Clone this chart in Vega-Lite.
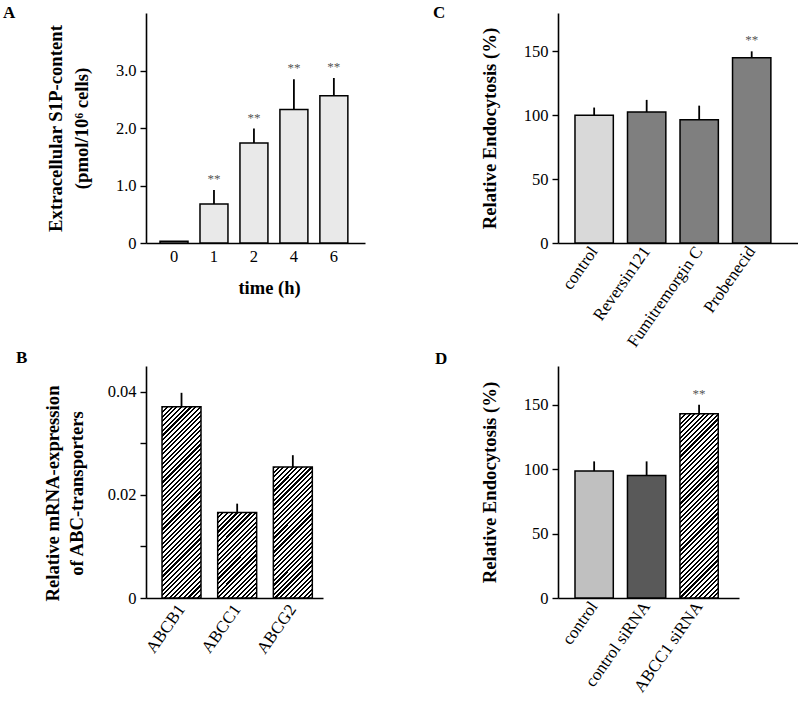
{
  "$schema": "https://vega.github.io/schema/vega-lite/v6.json",
  "padding": {"left": 3, "top": 4, "right": 0, "bottom": 0},
  "params": [
    {"name": "hatch", "value": [
      {"offset":0,"color":"#000"},{"offset":0.009,"color":"#000"},{"offset":0.009,"color":"#fff"},{"offset":0.02,"color":"#fff"},
      {"offset":0.02,"color":"#000"},{"offset":0.029,"color":"#000"},{"offset":0.029,"color":"#fff"},{"offset":0.04,"color":"#fff"},
      {"offset":0.04,"color":"#000"},{"offset":0.049,"color":"#000"},{"offset":0.049,"color":"#fff"},{"offset":0.06,"color":"#fff"},
      {"offset":0.06,"color":"#000"},{"offset":0.069,"color":"#000"},{"offset":0.069,"color":"#fff"},{"offset":0.08,"color":"#fff"},
      {"offset":0.08,"color":"#000"},{"offset":0.089,"color":"#000"},{"offset":0.089,"color":"#fff"},{"offset":0.10,"color":"#fff"},
      {"offset":0.10,"color":"#000"},{"offset":0.109,"color":"#000"},{"offset":0.109,"color":"#fff"},{"offset":0.12,"color":"#fff"},
      {"offset":0.12,"color":"#000"},{"offset":0.129,"color":"#000"},{"offset":0.129,"color":"#fff"},{"offset":0.14,"color":"#fff"},
      {"offset":0.14,"color":"#000"},{"offset":0.149,"color":"#000"},{"offset":0.149,"color":"#fff"},{"offset":0.16,"color":"#fff"},
      {"offset":0.16,"color":"#000"},{"offset":0.169,"color":"#000"},{"offset":0.169,"color":"#fff"},{"offset":0.18,"color":"#fff"},
      {"offset":0.18,"color":"#000"},{"offset":0.189,"color":"#000"},{"offset":0.189,"color":"#fff"},{"offset":0.20,"color":"#fff"},
      {"offset":0.20,"color":"#000"},{"offset":0.209,"color":"#000"},{"offset":0.209,"color":"#fff"},{"offset":0.22,"color":"#fff"},
      {"offset":0.22,"color":"#000"},{"offset":0.229,"color":"#000"},{"offset":0.229,"color":"#fff"},{"offset":0.24,"color":"#fff"},
      {"offset":0.24,"color":"#000"},{"offset":0.249,"color":"#000"},{"offset":0.249,"color":"#fff"},{"offset":0.26,"color":"#fff"},
      {"offset":0.26,"color":"#000"},{"offset":0.269,"color":"#000"},{"offset":0.269,"color":"#fff"},{"offset":0.28,"color":"#fff"},
      {"offset":0.28,"color":"#000"},{"offset":0.289,"color":"#000"},{"offset":0.289,"color":"#fff"},{"offset":0.30,"color":"#fff"},
      {"offset":0.30,"color":"#000"},{"offset":0.309,"color":"#000"},{"offset":0.309,"color":"#fff"},{"offset":0.32,"color":"#fff"},
      {"offset":0.32,"color":"#000"},{"offset":0.329,"color":"#000"},{"offset":0.329,"color":"#fff"},{"offset":0.34,"color":"#fff"},
      {"offset":0.34,"color":"#000"},{"offset":0.349,"color":"#000"},{"offset":0.349,"color":"#fff"},{"offset":0.36,"color":"#fff"},
      {"offset":0.36,"color":"#000"},{"offset":0.369,"color":"#000"},{"offset":0.369,"color":"#fff"},{"offset":0.38,"color":"#fff"},
      {"offset":0.38,"color":"#000"},{"offset":0.389,"color":"#000"},{"offset":0.389,"color":"#fff"},{"offset":0.40,"color":"#fff"},
      {"offset":0.40,"color":"#000"},{"offset":0.409,"color":"#000"},{"offset":0.409,"color":"#fff"},{"offset":0.42,"color":"#fff"},
      {"offset":0.42,"color":"#000"},{"offset":0.429,"color":"#000"},{"offset":0.429,"color":"#fff"},{"offset":0.44,"color":"#fff"},
      {"offset":0.44,"color":"#000"},{"offset":0.449,"color":"#000"},{"offset":0.449,"color":"#fff"},{"offset":0.46,"color":"#fff"},
      {"offset":0.46,"color":"#000"},{"offset":0.469,"color":"#000"},{"offset":0.469,"color":"#fff"},{"offset":0.48,"color":"#fff"},
      {"offset":0.48,"color":"#000"},{"offset":0.489,"color":"#000"},{"offset":0.489,"color":"#fff"},{"offset":0.50,"color":"#fff"},
      {"offset":0.50,"color":"#000"},{"offset":0.509,"color":"#000"},{"offset":0.509,"color":"#fff"},{"offset":0.52,"color":"#fff"},
      {"offset":0.52,"color":"#000"},{"offset":0.529,"color":"#000"},{"offset":0.529,"color":"#fff"},{"offset":0.54,"color":"#fff"},
      {"offset":0.54,"color":"#000"},{"offset":0.549,"color":"#000"},{"offset":0.549,"color":"#fff"},{"offset":0.56,"color":"#fff"},
      {"offset":0.56,"color":"#000"},{"offset":0.569,"color":"#000"},{"offset":0.569,"color":"#fff"},{"offset":0.58,"color":"#fff"},
      {"offset":0.58,"color":"#000"},{"offset":0.589,"color":"#000"},{"offset":0.589,"color":"#fff"},{"offset":0.60,"color":"#fff"},
      {"offset":0.60,"color":"#000"},{"offset":0.609,"color":"#000"},{"offset":0.609,"color":"#fff"},{"offset":0.62,"color":"#fff"},
      {"offset":0.62,"color":"#000"},{"offset":0.629,"color":"#000"},{"offset":0.629,"color":"#fff"},{"offset":0.64,"color":"#fff"},
      {"offset":0.64,"color":"#000"},{"offset":0.649,"color":"#000"},{"offset":0.649,"color":"#fff"},{"offset":0.66,"color":"#fff"},
      {"offset":0.66,"color":"#000"},{"offset":0.669,"color":"#000"},{"offset":0.669,"color":"#fff"},{"offset":0.68,"color":"#fff"},
      {"offset":0.68,"color":"#000"},{"offset":0.689,"color":"#000"},{"offset":0.689,"color":"#fff"},{"offset":0.70,"color":"#fff"},
      {"offset":0.70,"color":"#000"},{"offset":0.709,"color":"#000"},{"offset":0.709,"color":"#fff"},{"offset":0.72,"color":"#fff"},
      {"offset":0.72,"color":"#000"},{"offset":0.729,"color":"#000"},{"offset":0.729,"color":"#fff"},{"offset":0.74,"color":"#fff"},
      {"offset":0.74,"color":"#000"},{"offset":0.749,"color":"#000"},{"offset":0.749,"color":"#fff"},{"offset":0.76,"color":"#fff"},
      {"offset":0.76,"color":"#000"},{"offset":0.769,"color":"#000"},{"offset":0.769,"color":"#fff"},{"offset":0.78,"color":"#fff"},
      {"offset":0.78,"color":"#000"},{"offset":0.789,"color":"#000"},{"offset":0.789,"color":"#fff"},{"offset":0.80,"color":"#fff"},
      {"offset":0.80,"color":"#000"},{"offset":0.809,"color":"#000"},{"offset":0.809,"color":"#fff"},{"offset":0.82,"color":"#fff"},
      {"offset":0.82,"color":"#000"},{"offset":0.829,"color":"#000"},{"offset":0.829,"color":"#fff"},{"offset":0.84,"color":"#fff"},
      {"offset":0.84,"color":"#000"},{"offset":0.849,"color":"#000"},{"offset":0.849,"color":"#fff"},{"offset":0.86,"color":"#fff"},
      {"offset":0.86,"color":"#000"},{"offset":0.869,"color":"#000"},{"offset":0.869,"color":"#fff"},{"offset":0.88,"color":"#fff"},
      {"offset":0.88,"color":"#000"},{"offset":0.889,"color":"#000"},{"offset":0.889,"color":"#fff"},{"offset":0.90,"color":"#fff"},
      {"offset":0.90,"color":"#000"},{"offset":0.909,"color":"#000"},{"offset":0.909,"color":"#fff"},{"offset":0.92,"color":"#fff"},
      {"offset":0.92,"color":"#000"},{"offset":0.929,"color":"#000"},{"offset":0.929,"color":"#fff"},{"offset":0.94,"color":"#fff"},
      {"offset":0.94,"color":"#000"},{"offset":0.949,"color":"#000"},{"offset":0.949,"color":"#fff"},{"offset":0.96,"color":"#fff"},
      {"offset":0.96,"color":"#000"},{"offset":0.969,"color":"#000"},{"offset":0.969,"color":"#fff"},{"offset":0.98,"color":"#fff"},
      {"offset":0.98,"color":"#000"},{"offset":0.989,"color":"#000"},{"offset":0.989,"color":"#fff"},{"offset":1,"color":"#fff"}
    ]}
  ],
  "columns": 2,
  "spacing": {"row": 123, "column": 193},
  "bounds": "flush",
  "align": "each",
  "config": {
    "view": {"stroke": null},
    "font": "Liberation Serif",
    "axis": {
      "domainColor": "#000", "domainWidth": 1.6, "tickColor": "#000", "tickWidth": 1.4, "tickSize": 6,
      "labelFont": "Liberation Serif", "labelFontSize": 16.5, "labelColor": "#000", "labelPadding": 4,
      "titleFont": "Liberation Serif", "titleFontSize": 18.5, "titleFontWeight": "bold", "titleColor": "#000",
      "grid": false
    },
    "axisY": {"titleFontSize": 18.7},
    "axisX": {"ticks": false, "tickSize": 0},
    "title": {"font": "Liberation Serif", "fontSize": 17, "fontWeight": "bold", "color": "#000", "anchor": "start", "frame": "group", "baseline": "top", "offset": 0}
  },
  "concat": [
    {
      "title": {"text": "A", "dx": -143, "dy": 13},
      "width": 219, "height": 230,
      "data": {"values": [
        {"time": "0", "mean": 0.03, "upper": null, "sig": ""},
        {"time": "1", "mean": 0.68, "upper": 0.92, "sig": "**"},
        {"time": "2", "mean": 1.74, "upper": 1.99, "sig": "**"},
        {"time": "4", "mean": 2.32, "upper": 2.85, "sig": "**"},
        {"time": "6", "mean": 2.56, "upper": 2.87, "sig": "**"}
      ]},
      "encoding": {
        "x": {"field": "time", "type": "ordinal", "sort": null,
              "scale": {"paddingInner": 0.3, "paddingOuter": 0.39, "align": 0.45},
              "axis": {"title": "time (h)", "labelAngle": 0, "labelPadding": 5, "titlePadding": 14, "titleX": 123}}
      },
      "layer": [
        {"mark": {"type": "bar", "fill": "#e9e9e9", "stroke": "#000", "strokeWidth": 1.5},
         "encoding": {"y": {"field": "mean", "type": "quantitative", "scale": {"domain": [0, 3.6]},
           "title": ["Extracellular S1P-content", "(pmol/10⁶ cells)"],
           "axis": {"values": [0, 1, 2, 3], "labelExpr": "datum.value === 0 ? '0' : format(datum.value, '.1f')",
                    "titleLineHeight": 26, "titlePadding": 24}}}},
        {"transform": [{"filter": "datum.upper != null"}],
         "mark": {"type": "rule", "strokeWidth": 1.8, "color": "#000"},
         "encoding": {"y": {"field": "mean", "type": "quantitative", "title": ["Extracellular S1P-content", "(pmol/10⁶ cells)"]}, "y2": {"field": "upper"}}},
        {"transform": [{"filter": "datum.sig !== ''"}],
         "mark": {"type": "text", "dy": -7, "fontSize": 13, "color": "#555", "baseline": "alphabetic"},
         "encoding": {"y": {"field": "upper", "type": "quantitative", "title": ["Extracellular S1P-content", "(pmol/10⁶ cells)"]}, "text": {"field": "sig"}}}
      ]
    },
    {
      "title": {"text": "C", "dx": -125, "dy": 13},
      "width": 240, "height": 230,
      "data": {"values": [
        {"treatment": "control", "mean": 100, "upper": 106, "sig": ""},
        {"treatment": "Reversin121", "mean": 102.5, "upper": 112, "sig": ""},
        {"treatment": "Fumitremorgin C", "mean": 96.5, "upper": 107.5, "sig": ""},
        {"treatment": "Probenecid", "mean": 145, "upper": 150, "sig": "**"}
      ]},
      "encoding": {
        "x": {"field": "treatment", "type": "nominal", "sort": null,
              "scale": {"paddingInner": 0.27, "paddingOuter": 0.42, "align": 0.385},
              "axis": {"title": null, "labelAngle": -55, "labelPadding": 5, "labelFontSize": 17}}
      },
      "layer": [
        {"mark": {"type": "bar", "stroke": "#000", "strokeWidth": 1.5},
         "encoding": {
           "y": {"field": "mean", "type": "quantitative", "scale": {"domain": [0, 180]}, "title": "Relative Endocytosis (%)",
                 "axis": {"values": [0, 50, 100, 150], "titlePadding": 24}},
           "fill": {"field": "treatment", "type": "nominal", "legend": null,
                    "scale": {"domain": ["control", "Reversin121", "Fumitremorgin C", "Probenecid"],
                              "range": ["#d9d9d9", "#7f7f7f", "#7f7f7f", "#7f7f7f"]}}}},
        {"mark": {"type": "rule", "strokeWidth": 1.8, "color": "#000"},
         "encoding": {"y": {"field": "mean", "type": "quantitative", "title": "Relative Endocytosis (%)"}, "y2": {"field": "upper"}}},
        {"transform": [{"filter": "datum.sig !== ''"}],
         "mark": {"type": "text", "dy": -7, "fontSize": 13, "color": "#555", "baseline": "alphabetic"},
         "encoding": {"y": {"field": "upper", "type": "quantitative", "title": "Relative Endocytosis (%)"}, "text": {"field": "sig"}}}
      ]
    },
    {
      "title": {"text": "B", "dx": -130, "dy": 5},
      "width": 177, "height": 232,
      "data": {"values": [
        {"gene": "ABCB1", "mean": 0.0371, "upper": 0.0398},
        {"gene": "ABCC1", "mean": 0.0166, "upper": 0.0183},
        {"gene": "ABCG2", "mean": 0.0254, "upper": 0.0277}
      ]},
      "encoding": {
        "x": {"field": "gene", "type": "nominal", "sort": null,
              "scale": {"paddingInner": 0.3, "paddingOuter": 0.24, "align": 0.6},
              "axis": {"title": null, "labelAngle": -55, "labelPadding": 8, "labelFontSize": 17}}
      },
      "layer": [
        {"mark": {"type": "bar", "stroke": "#000", "strokeWidth": 1.5},
         "encoding": {
           "y": {"field": "mean", "type": "quantitative", "scale": {"domain": [0, 0.045]},
                 "title": ["Relative mRNA-expression", "of  ABC-transporters"],
                 "axis": {"values": [0, 0.01, 0.02, 0.03, 0.04],
                          "labelExpr": "datum.value === 0 ? '0' : (round(datum.value * 100) % 2 === 0 ? format(datum.value, '.2f') : '')",
                          "titleLineHeight": 24, "titlePadding": 21, "titleY": 127}},
           "fill": {"value": {"expr": "{gradient: 'linear', x1: 0, y1: 0, x2: 235 * 39 / (1521 + pow(datum.mean * 5155.6, 2)), y2: 235 * datum.mean * 5155.6 / (1521 + pow(datum.mean * 5155.6, 2)), stops: hatch}"}}}},
        {"mark": {"type": "rule", "strokeWidth": 1.8, "color": "#000"},
         "encoding": {"y": {"field": "mean", "type": "quantitative", "title": ["Relative mRNA-expression", "of  ABC-transporters"]}, "y2": {"field": "upper"}}}
      ]
    },
    {
      "title": {"text": "D", "dx": -123, "dy": 6},
      "width": 181, "height": 232,
      "data": {"values": [
        {"treatment": "control", "mean": 98.5, "upper": 106, "sig": ""},
        {"treatment": "control siRNA", "mean": 95, "upper": 106, "sig": ""},
        {"treatment": "ABCC1 siRNA", "mean": 143, "upper": 150, "sig": "**"}
      ]},
      "encoding": {
        "x": {"field": "treatment", "type": "nominal", "sort": null,
              "scale": {"paddingInner": 0.27, "paddingOuter": 0.36, "align": 0.45},
              "axis": {"title": null, "labelAngle": -55, "labelPadding": 5, "labelFontSize": 17}}
      },
      "layer": [
        {"mark": {"type": "bar", "stroke": "#000", "strokeWidth": 1.5},
         "encoding": {
           "y": {"field": "mean", "type": "quantitative", "scale": {"domain": [0, 180]}, "title": "Relative Endocytosis (%)",
                 "axis": {"values": [0, 50, 100, 150], "titlePadding": 24}},
           "fill": {"condition": [
                      {"test": "datum.treatment === 'control'", "value": "#c0c0c0"},
                      {"test": "datum.treatment === 'control siRNA'", "value": "#595959"}],
                    "value": {"expr": "{gradient: 'linear', x1: 0, y1: 0, x2: 235 * 38.3 / (1467 + pow(datum.mean * 1.2889, 2)), y2: 235 * datum.mean * 1.2889 / (1467 + pow(datum.mean * 1.2889, 2)), stops: hatch}"}}}},
        {"mark": {"type": "rule", "strokeWidth": 1.8, "color": "#000"},
         "encoding": {"y": {"field": "mean", "type": "quantitative", "title": "Relative Endocytosis (%)"}, "y2": {"field": "upper"}}},
        {"transform": [{"filter": "datum.sig !== ''"}],
         "mark": {"type": "text", "dy": -7, "fontSize": 13, "color": "#555", "baseline": "alphabetic"},
         "encoding": {"y": {"field": "upper", "type": "quantitative", "title": "Relative Endocytosis (%)"}, "text": {"field": "sig"}}}
      ]
    }
  ]
}
